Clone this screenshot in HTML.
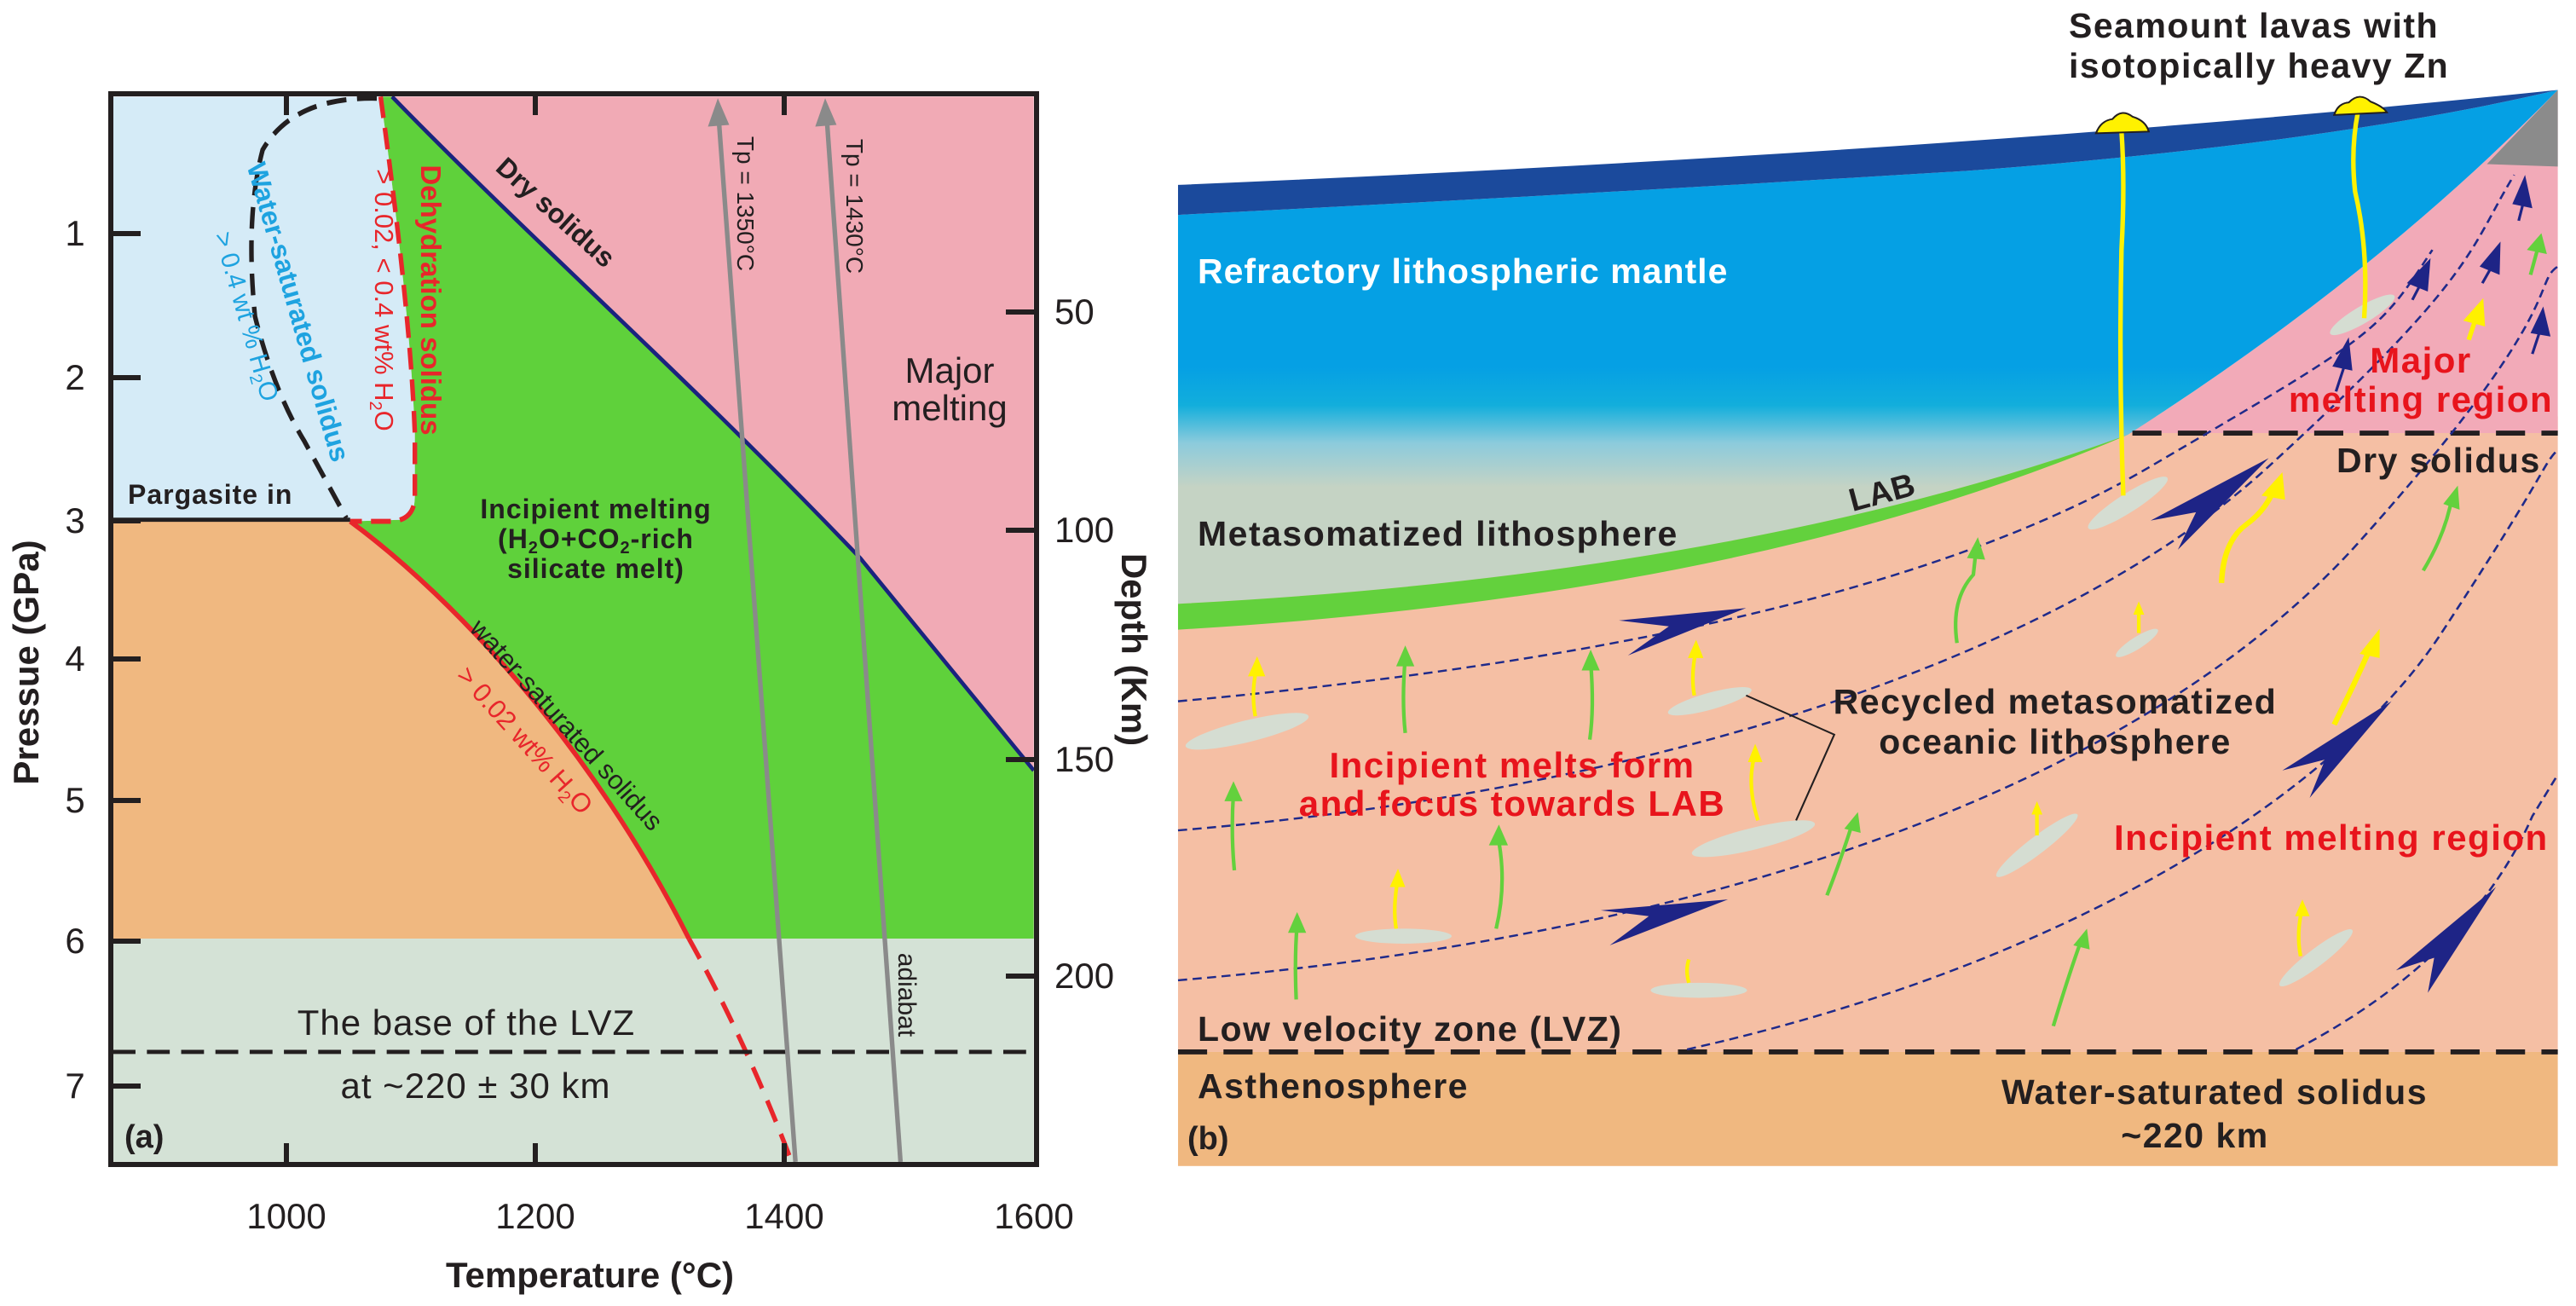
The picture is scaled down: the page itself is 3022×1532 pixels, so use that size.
<!DOCTYPE html>
<html><head><meta charset="utf-8"><style>
html,body{margin:0;padding:0;background:#fff;}
svg{display:block;}
text{font-family:"Liberation Sans",Arial,sans-serif;fill:#231f20;}
.b{font-weight:bold;}
</style></head><body>
<svg width="3022" height="1532" viewBox="0 0 3022 1532" xmlns="http://www.w3.org/2000/svg">
<defs>
<linearGradient id="lith" gradientUnits="userSpaceOnUse" x1="0" y1="0" x2="0" y2="760">
<stop offset="0" stop-color="#05a0e4"/>
<stop offset="0.58" stop-color="#05a0e4"/>
<stop offset="0.64" stop-color="#12aedc"/>
<stop offset="0.70" stop-color="#8ccbdc"/>
<stop offset="0.77" stop-color="#c5d3c4"/>
<stop offset="1" stop-color="#c5d3c4"/>
</linearGradient>
</defs>

<!-- ================= PANEL A ================= -->
<g transform="scale(0.893,0.977)">
<rect x="148" y="116" width="1210" height="1011" fill="#f1aab5"/>
<path d="M515,116 C700,290 900,450 1130,670 L1358,925 L1358,1127 L905,1127 C780,900 600,720 460,626 L530,624 Q545,620 545,595 L545,520 C540,400 520,250 500,116 Z" fill="#5fd13b"/>
<path d="M148,116 L500,116 C520,250 540,400 545,520 L545,595 Q545,620 530,624 L460,626 L148,626 Z" fill="#d5ebf7"/>
<path d="M148,626 L460,626 C600,720 780,900 905,1127 L148,1127 Z" fill="#f0b880"/>
<rect x="148" y="1127" width="1210" height="268" fill="#d4e2d6"/>
<path d="M515,116 C700,290 900,450 1130,670 L1358,925" fill="none" stroke="#1a237e" stroke-width="5"/>
<path d="M500,116 C520,250 540,400 545,520 L545,595 Q545,624 515,626 L460,626" fill="none" stroke="#e8262b" stroke-width="6" stroke-dasharray="26,12"/>
<path d="M495,118 Q385,116 345,180 Q322,260 335,380 Q360,470 400,530 Q430,580 455,622" fill="none" stroke="#231f20" stroke-width="6" stroke-dasharray="26,14"/>
<line x1="148" y1="624" x2="460" y2="624" stroke="#231f20" stroke-width="5"/>
<path d="M460,626 C600,720 780,900 905,1127" fill="none" stroke="#e8262b" stroke-width="6"/>
<path d="M905,1127 Q980,1250 1040,1395" fill="none" stroke="#e8262b" stroke-width="6" stroke-dasharray="28,16"/>
<line x1="148" y1="1263" x2="1358" y2="1263" stroke="#231f20" stroke-width="5" stroke-dasharray="30,15"/>
<line x1="1045" y1="1395" x2="944" y2="140" stroke="#8a8a8a" stroke-width="6"/>
<path d="M943,118 L930,152 L958,150 Z" fill="#8a8a8a"/>
<line x1="1183" y1="1395" x2="1086" y2="140" stroke="#8a8a8a" stroke-width="6"/>
<path d="M1084,118 L1071,152 L1099,150 Z" fill="#8a8a8a"/>
</g>
<rect x="130" y="110" width="1086" height="1256" fill="none" stroke="#231f20" stroke-width="6"/>
<g stroke="#231f20" stroke-width="6">
<line x1="336" y1="110" x2="336" y2="135"/><line x1="628" y1="110" x2="628" y2="135"/><line x1="920" y1="110" x2="920" y2="135"/>
<line x1="336" y1="1366" x2="336" y2="1341"/><line x1="628" y1="1366" x2="628" y2="1341"/><line x1="920" y1="1366" x2="920" y2="1341"/>
<line x1="130" y1="274" x2="165" y2="274"/><line x1="130" y1="443" x2="165" y2="443"/><line x1="130" y1="611" x2="165" y2="611"/>
<line x1="130" y1="773" x2="165" y2="773"/><line x1="130" y1="939" x2="165" y2="939"/><line x1="130" y1="1104" x2="165" y2="1104"/><line x1="130" y1="1274" x2="165" y2="1274"/>
<line x1="1180" y1="366" x2="1216" y2="366"/><line x1="1180" y1="622" x2="1216" y2="622"/><line x1="1180" y1="891" x2="1216" y2="891"/><line x1="1180" y1="1145" x2="1216" y2="1145"/>
</g>
<g font-size="42" text-anchor="middle">
<text x="336" y="1441">1000</text><text x="628" y="1441">1200</text><text x="920" y="1441">1400</text><text x="1213" y="1441">1600</text>
<text x="88" y="288">1</text><text x="88" y="457">2</text><text x="88" y="625">3</text><text x="88" y="787">4</text><text x="88" y="953">5</text><text x="88" y="1118">6</text><text x="88" y="1288">7</text>
</g>
<g font-size="42">
<text x="1237" y="380">50</text><text x="1237" y="636">100</text><text x="1237" y="905">150</text><text x="1237" y="1159">200</text>
</g>
<text class="b" font-size="42" text-anchor="middle" x="692" y="1510">Temperature (°C)</text>
<text class="b" font-size="42" text-anchor="middle" transform="translate(45,777) rotate(-90)">Pressue (GPa)</text>
<text class="b" font-size="42" text-anchor="middle" transform="translate(1316,762) rotate(90)">Depth (Km)</text>

<text class="b" font-size="32" transform="translate(652,249) rotate(42)" text-anchor="middle" dy="11">Dry solidus</text>
<text class="b" font-size="33" style="fill:#e8262b" transform="translate(505,352) rotate(90)" text-anchor="middle" dy="11">Dehydration solidus</text>
<text font-size="31" style="fill:#e8262b" transform="translate(451,352) rotate(90)" text-anchor="middle" dy="11">&gt; 0.02, &lt; 0.4 wt% H<tspan font-size="20" dy="6">2</tspan><tspan dy="-6">O</tspan></text>
<text class="b" font-size="32" style="fill:#1ea3e0" transform="translate(350,366) rotate(74)" text-anchor="middle" dy="11">Water-saturated solidus</text>
<text font-size="30" style="fill:#1ea3e0" transform="translate(290,371) rotate(74)" text-anchor="middle" dy="11">&gt; 0.4 wt % H<tspan font-size="20" dy="6">2</tspan><tspan dy="-6">O</tspan></text>
<text class="b" font-size="32" x="150" y="591" letter-spacing="1">Pargasite in</text>
<g class="b" font-size="32" text-anchor="middle">
<text class="b" x="699" y="608" letter-spacing="1">Incipient melting</text>
<text class="b" x="699" y="643" letter-spacing="1">(H<tspan font-size="20" dy="6">2</tspan><tspan dy="-6">O+CO</tspan><tspan font-size="20" dy="6">2</tspan><tspan dy="-6">-rich</tspan></text>
<text class="b" x="699" y="678" letter-spacing="1">silicate melt)</text>
</g>
<text font-size="42" text-anchor="middle" x="1114" y="449">Major</text>
<text font-size="42" text-anchor="middle" x="1114" y="493">melting</text>
<text font-size="31" transform="translate(665,850) rotate(48)" text-anchor="middle" dy="11">water-saturated solidus</text>
<text font-size="31" style="fill:#e8262b" transform="translate(616,868) rotate(48)" text-anchor="middle" dy="11">&gt; 0.02 wt% H<tspan font-size="20" dy="6">2</tspan><tspan dy="-6">O</tspan></text>
<text font-size="28" transform="translate(875,239) rotate(90)" text-anchor="middle" dy="10">Tp = 1350°C</text>
<text font-size="28" transform="translate(1003,242) rotate(90)" text-anchor="middle" dy="10">Tp = 1430°C</text>
<text font-size="30" transform="translate(1064,1167) rotate(90)" text-anchor="middle" dy="10">adiabat</text>
<text font-size="42" text-anchor="middle" x="547" y="1214" letter-spacing="1">The base of the LVZ</text>
<text font-size="42" text-anchor="middle" x="558" y="1288" letter-spacing="1">at ~220 ± 30 km</text>
<text class="b" font-size="38" x="146" y="1346">(a)</text>

<!-- ================= PANEL B ================= -->
<g transform="translate(1350,0) scale(1.0663,0.977)">
<rect x="30" y="500" width="1518" height="763" fill="#f5bfa4"/>
<rect x="30" y="1263" width="1518" height="137" fill="#f0b880"/>
<path d="M1075,522 Q1350,330 1548,108 L1548,520 L1075,520 Z" fill="#f2aab8"/>
<path d="M1470,197 L1548,108 L1548,200 Z" fill="#8b8b8b"/>
<path d="M30,258 Q450,235 900,205 Q1300,172 1548,108 Q1350,330 1075,522 Q650,690 30,725 Z" fill="url(#lith)"/>
<path d="M30,222 Q900,182 1548,108 Q1300,172 900,205 Q450,235 30,258 Z" fill="#1b4a9c"/>
<path d="M30,725 Q650,690 1075,522 Q660,716 30,756 Z" fill="#63d13d"/>
<line x1="1080" y1="520" x2="1548" y2="520" stroke="#231f20" stroke-width="6" stroke-dasharray="32,18"/>
<line x1="30" y1="1263" x2="1548" y2="1263" stroke="#231f20" stroke-width="6" stroke-dasharray="32,18"/>
<g fill="none" stroke="#1f2a8a" stroke-width="2.5" stroke-dasharray="10,6">
<path d="M30,842 C450,800 850,720 1100,560 S1350,400 1410,300"/>
<path d="M30,997 C550,950 1000,790 1230,560 S1450,300 1500,210"/>
<path d="M30,1177 C650,1120 1100,930 1330,650 S1520,340 1548,320"/>
<path d="M590,1260 C1000,1160 1300,960 1420,760 S1530,560 1548,540"/>
<path d="M1260,1260 C1400,1180 1480,1080 1520,980 L1548,930"/>
</g>
<g fill="#1e2486">
<polygon points="515,745 655,730 525,787 570,752"/>
<polygon points="1100,625 1230,550 1130,660 1150,615"/>
<polygon points="495,1093 635,1080 505,1135 548,1100"/>
<polygon points="1245,925 1365,842 1275,958 1292,912"/>
<polygon points="1370,1165 1480,1065 1405,1192 1412,1150"/>
<polygon points="1300,440 1318,405 1322,445"/>
<polygon points="1382,340 1408,310 1405,350"/>
<polygon points="1462,320 1485,290 1484,330"/>
<polygon points="1498,245 1512,210 1520,250"/>
<polygon points="1518,400 1532,368 1540,404"/>
</g>
<g stroke="#1e2486" stroke-width="3"><line x1="1304" y1="470" x2="1316" y2="430"/><line x1="1388" y1="360" x2="1400" y2="335"/><line x1="1465" y1="340" x2="1478" y2="315"/><line x1="1505" y1="265" x2="1512" y2="235"/><line x1="1520" y1="425" x2="1530" y2="392"/></g>
<g fill="#d5ddd2">
<ellipse cx="106" cy="878" rx="70" ry="13" transform="rotate(-15 106 878)"/>
<ellipse cx="615" cy="842" rx="48" ry="10" transform="rotate(-17 615 842)"/>
<ellipse cx="663" cy="1007" rx="70" ry="13" transform="rotate(-15 663 1007)"/>
<ellipse cx="278" cy="1124" rx="53" ry="9"/>
<ellipse cx="603" cy="1189" rx="53" ry="9"/>
<ellipse cx="1075" cy="604" rx="53" ry="11" transform="rotate(-35 1075 604)"/>
<ellipse cx="1085" cy="772" rx="28" ry="7" transform="rotate(-35 1085 772)"/>
<ellipse cx="975" cy="1015" rx="58" ry="10" transform="rotate(-40 975 1015)"/>
<ellipse cx="1282" cy="1150" rx="52" ry="10" transform="rotate(-40 1282 1150)"/>
<ellipse cx="1333" cy="378" rx="42" ry="10" transform="rotate(-33 1333 378)"/>
</g>
<path d="M1070,595 Q1065,450 1068,300 Q1072,220 1068,158" fill="none" stroke="#fff100" stroke-width="5"/>
<path d="M1335,382 Q1340,300 1325,230 Q1320,180 1328,135" fill="none" stroke="#fff100" stroke-width="5"/>
<path d="M1040,160 Q1045,145 1058,143 Q1068,130 1080,140 Q1095,145 1098,158 Z" fill="#fff100" stroke="#231f20" stroke-width="2"/>
<path d="M1302,138 Q1306,124 1318,123 Q1330,110 1342,122 Q1356,128 1360,135 Z" fill="#fff100" stroke="#231f20" stroke-width="2"/>
<g fill="none" stroke="#63d13d" stroke-width="4">
<path d="M280,880 Q276,840 280,790"/><path d="M483,888 Q488,850 484,795"/><path d="M92,1045 Q88,1000 91,952"/>
<path d="M380,1115 Q392,1060 382,1005"/><path d="M160,1200 Q158,1150 161,1110"/><path d="M887,772 Q880,720 905,690 L908,660"/>
<path d="M744,1075 Q760,1030 773,985"/><path d="M993,1232 Q1010,1170 1025,1125"/><path d="M1400,685 Q1425,640 1432,595"/><path d="M1518,330 L1528,290"/>
</g>
<g fill="#63d13d">
<polygon points="270,800 280,775 290,800"/><polygon points="474,805 484,780 494,805"/><polygon points="81,962 91,938 101,962"/>
<polygon points="372,1015 383,990 393,1015"/><polygon points="151,1120 161,1095 171,1120"/><polygon points="898,670 910,645 918,672"/>
<polygon points="763,995 778,975 781,1000"/><polygon points="1015,1135 1030,1115 1033,1140"/><polygon points="1422,605 1438,583 1440,612"/><polygon points="1514,300 1530,280 1536,305"/>
</g>
<g fill="none" stroke="#fff100" stroke-width="4">
<path d="M115,860 Q110,830 117,800"/><path d="M598,835 Q594,810 600,780"/><path d="M668,985 Q655,940 665,905"/>
<path d="M270,1115 Q266,1090 272,1055"/><path d="M592,1180 Q588,1165 592,1152"/><path d="M1087,760 L1087,730"/>
<path d="M975,1003 L975,970"/><path d="M1265,1148 Q1260,1120 1267,1090"/>
<path d="M1178,700 Q1180,650 1205,630 Q1230,610 1238,580" stroke-width="6"/>
<path d="M1302,870 Q1325,820 1345,770" stroke-width="6"/>
<path d="M1450,408 L1460,375" stroke-width="5"/>
</g>
<g fill="#fff100">
<polygon points="107,812 117,788 126,812"/><polygon points="591,790 600,768 608,790"/><polygon points="657,915 665,893 673,915"/>
<polygon points="263,1065 272,1043 280,1065"/><polygon points="1081,738 1087,722 1093,738"/><polygon points="969,978 975,962 981,978"/>
<polygon points="1259,1100 1267,1080 1275,1100"/><polygon points="1222,595 1245,567 1248,600"/><polygon points="1330,785 1352,755 1352,790"/><polygon points="1444,385 1466,358 1468,392"/>
</g>
<path d="M655,835 L752,882 L710,985" fill="none" stroke="#231f20" stroke-width="2"/>
</g>
<text class="b" font-size="41" x="2427" y="44" letter-spacing="1.5">Seamount lavas with</text>
<text class="b" font-size="41" x="2427" y="91" letter-spacing="1.5">isotopically heavy Zn</text>
<text class="b" font-size="41" x="1405" y="332" style="fill:#fff" letter-spacing="1">Refractory lithospheric mantle</text>
<text class="b" font-size="41" x="1405" y="640" letter-spacing="1.5">Metasomatized lithosphere</text>
<text class="b" font-size="38" transform="translate(2211,590) rotate(-15)" text-anchor="middle">LAB</text>
<text class="b" font-size="42" x="2840" y="437" text-anchor="middle" style="fill:#e8141c" letter-spacing="1.5">Major</text>
<text class="b" font-size="42" x="2840" y="483" text-anchor="middle" style="fill:#e8141c" letter-spacing="1.5">melting region</text>
<text class="b" font-size="41" x="2741" y="554" letter-spacing="1.5">Dry solidus</text>
<text class="b" font-size="41" x="2411" y="837" text-anchor="middle" letter-spacing="1.5">Recycled  metasomatized</text>
<text class="b" font-size="41" x="2411" y="884" text-anchor="middle" letter-spacing="1.5">oceanic lithosphere</text>
<text class="b" font-size="42" x="1774" y="912" text-anchor="middle" style="fill:#e8141c" letter-spacing="1.5">Incipient melts form</text>
<text class="b" font-size="42" x="1774" y="957" text-anchor="middle" style="fill:#e8141c" letter-spacing="1.5">and focus towards LAB</text>
<text class="b" font-size="42" x="2480" y="997" style="fill:#e8141c" letter-spacing="1.5">Incipient melting region</text>
<text class="b" font-size="41" x="1405" y="1221" letter-spacing="1.5">Low velocity zone (LVZ)</text>
<text class="b" font-size="41" x="1405" y="1288" letter-spacing="1.5">Asthenosphere</text>
<text class="b" font-size="41" x="2598" y="1295" text-anchor="middle" letter-spacing="1.5">Water-saturated solidus</text>
<text class="b" font-size="41" x="2575" y="1346" text-anchor="middle" letter-spacing="1.5">~220 km</text>
<text class="b" font-size="38" x="1393" y="1348">(b)</text>
</svg>
</body></html>
